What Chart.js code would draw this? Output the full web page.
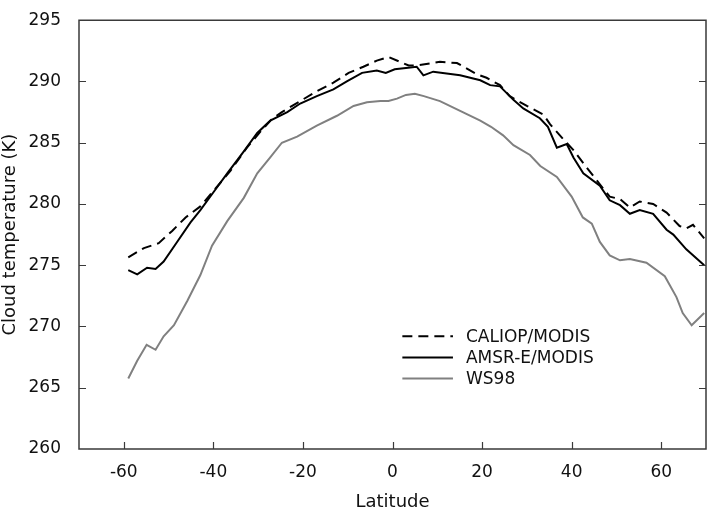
<!DOCTYPE html>
<html>
<head>
<meta charset="utf-8">
<script src="https://cdn.jsdelivr.net/npm/chart.js@4/dist/chart.umd.min.js"></script>
<style>
html,body{margin:0;padding:0;background:#fff;}
#wrap{width:709px;height:513px;position:relative;}
</style>
</head>
<body>
<div id="wrap"><canvas id="c" width="709" height="513"></canvas></div>
<script>
// ---- Data ----
const seriesNames = ["CALIOP/MODIS", "AMSR-E/MODIS", "WS98"];

const caliopLat = [-59, -55.5, -52.2, -49.2, -46.2, -42.9, -39.9, -36.2, -32.5, -29.5, -27, -24.7, -20.6, -16.9, -13.2, -9.8, -6.5, -3.5, -0.9, 3.6, 5.4, 10.6, 14.4, 18.8, 21, 24, 26.2, 30, 33.7, 35.2, 38.1, 40.4, 43.3, 46.3, 48.5, 50.8, 53, 55.2, 58.2, 61.2, 64.1, 65.6, 67.1, 69.6];
const caliopTemp = [275.65, 276.4, 276.8, 277.8, 278.9, 279.8, 281.1, 282.7, 284.6, 285.9, 286.9, 287.5, 288.4, 289.2, 289.9, 290.7, 291.2, 291.7, 292.0, 291.3, 291.3, 291.6, 291.5, 290.6, 290.3, 289.7, 288.8, 288.0, 287.3, 286.5, 285.3, 284.4, 283.0, 281.6, 280.6, 280.4, 279.7, 280.2, 280.0, 279.3, 278.2, 278.0, 278.3, 277.2];

const amsrLat = [-59, -57, -54.8, -52.9, -51.1, -48.1, -45.1, -42.9, -39.9, -36.9, -33.2, -30.2, -27.3, -23.5, -20.6, -16.9, -13.2, -10.2, -6.8, -3.5, -1.5, 0.5, 3, 5.4, 6.9, 9.1, 15.1, 19.6, 21.8, 24, 27, 29.2, 32.9, 34.7, 36.7, 38.9, 40.4, 42.6, 46.3, 48.5, 50.8, 53, 55.2, 58.2, 61.2, 62.7, 65.6, 69.6];
const amsrTemp = [274.6, 274.25, 274.8, 274.7, 275.3, 276.9, 278.5, 279.5, 281.0, 282.5, 284.3, 285.8, 286.8, 287.5, 288.2, 288.8, 289.35, 290.0, 290.7, 290.9, 290.7, 291.0, 291.1, 291.2, 290.5, 290.8, 290.5, 290.1, 289.7, 289.6, 288.5, 287.8, 287.0, 286.3, 284.6, 284.9, 283.8, 282.5, 281.5, 280.3, 279.9, 279.2, 279.5, 279.2, 277.9, 277.5, 276.3, 275.0];

const wsLat = [-59, -57, -54.9, -52.9, -51.1, -48.8, -45.8, -42.9, -40.3, -36.9, -33.2, -30.2, -27.3, -24.7, -21.3, -16.9, -12.4, -8.7, -5.7, -2.7, -0.9, 1, 3, 5, 7, 10.6, 15.1, 19.6, 22, 24.7, 27, 30.7, 33, 36.7, 40, 42.5, 44.5, 46.3, 48.5, 50.8, 53, 56.7, 60.8, 63.4, 64.8, 66.8, 69.6];
const wsTemp = [265.75, 267.2, 268.5, 268.1, 269.2, 270.1, 272.1, 274.2, 276.6, 278.6, 280.5, 282.5, 283.8, 285.0, 285.5, 286.4, 287.2, 288.0, 288.3, 288.4, 288.4, 288.6, 288.9, 289.0, 288.8, 288.4, 287.6, 286.8, 286.3, 285.6, 284.8, 284.0, 283.1, 282.2, 280.6, 278.9, 278.4, 276.9, 275.8, 275.4, 275.5, 275.2, 274.1, 272.4, 271.1, 270.1, 271.1];

const xTicks = [-60, -40, -20, 0, 20, 40, 60];
const yTicks = [260, 265, 270, 275, 280, 285, 290, 295];
const xTitle = "Latitude";
const yTitle = "Cloud temperature (K)";

// ---- build ----
function pts(xs, ys){ return xs.map((x,i)=>({x:x, y:ys[i]})); }

const FONT = "'DejaVu Sans', sans-serif";
const AXIS = "#3a3a3a";
const TEXT = "#111";

const frameAndTicks = {
  id: 'frameAndTicks',
  afterDatasetsDraw(chart){
    const {ctx, chartArea:a, scales:{x, y}} = chart;
    ctx.save();
    ctx.strokeStyle = AXIS;
    ctx.lineWidth = 1.5;
    ctx.beginPath();
    ctx.rect(a.left, a.top, a.right - a.left, a.bottom - a.top);
    ctx.stroke();
    ctx.lineWidth = 1.2;
    ctx.beginPath();
    xTicks.forEach(v=>{
      const px = Math.round(x.getPixelForValue(v)) + 0.5;
      ctx.moveTo(px, a.bottom); ctx.lineTo(px, a.bottom - 7);
    });
    yTicks.forEach(v=>{
      if (v === 260 || v === 295) return;
      const py = Math.round(y.getPixelForValue(v)) + 0.5;
      ctx.moveTo(a.left, py); ctx.lineTo(a.left + 7, py);
      ctx.moveTo(a.right, py); ctx.lineTo(a.right - 7, py);
    });
    ctx.stroke();

    // legend
    const lx0 = x.getPixelForValue(2.2), lx1 = x.getPixelForValue(13.5);
    const rows = [y.getPixelForValue(269.2), y.getPixelForValue(267.47), y.getPixelForValue(265.75)];
    chart.data.datasets.forEach((ds, i)=>{
      const yy = rows[i];
      ctx.strokeStyle = ds.borderColor;
      ctx.lineWidth = ds.borderWidth;
      ctx.setLineDash(ds.borderDash || []);
      ctx.beginPath(); ctx.moveTo(lx0, yy); ctx.lineTo(lx1, yy); ctx.stroke();
      ctx.setLineDash([]);
      ctx.fillStyle = TEXT;
      ctx.font = "17px " + FONT;
      ctx.textBaseline = 'middle';
      ctx.textAlign = 'left';
      ctx.fillText(ds.label, lx1 + 13, yy + 1);
    });
    ctx.restore();
  }
};

new Chart(document.getElementById('c'), {
  type: 'line',
  data: {
    datasets: [
      {label: seriesNames[0], data: pts(caliopLat, caliopTemp), borderColor: '#000', borderWidth: 2, borderDash: [10, 6], pointRadius: 0, tension: 0, fill: false},
      {label: seriesNames[1], data: pts(amsrLat, amsrTemp), borderColor: '#000', borderWidth: 2, pointRadius: 0, tension: 0, fill: false},
      {label: seriesNames[2], data: pts(wsLat, wsTemp), borderColor: '#808080', borderWidth: 2, pointRadius: 0, tension: 0, fill: false}
    ]
  },
  options: {
    responsive: false,
    animation: false,
    layout: {padding: {top: 9, right: 3, left: 0, bottom: 0}},
    plugins: {legend: {display: false}, tooltip: {enabled: false}},
    scales: {
      x: {
        type: 'linear', min: -70, max: 70,
        afterBuildTicks: s => { s.ticks = xTicks.map(v=>({value:v})); },
        afterFit: s => { s.height = 64; },
        grid: {display: false},
        border: {display: false},
        ticks: {font: {size: 17, family: FONT}, color: TEXT, padding: 5, maxRotation: 0},
        title: {display: true, text: xTitle, font: {size: 18, family: FONT}, color: TEXT, padding: {top: 8, bottom: 0}}
      },
      y: {
        type: 'linear', min: 260, max: 295,
        afterBuildTicks: s => { s.ticks = yTicks.map(v=>({value:v})); },
        afterFit: s => { s.width = 79; },
        grid: {display: false},
        border: {display: false},
        ticks: {font: {size: 17, family: FONT}, color: TEXT, padding: 10},
        title: {display: true, text: yTitle, font: {size: 18, family: FONT}, color: TEXT, padding: {top: 0, bottom: 4}}
      }
    }
  },
  plugins: [frameAndTicks]
});
</script>
</body>
</html>
